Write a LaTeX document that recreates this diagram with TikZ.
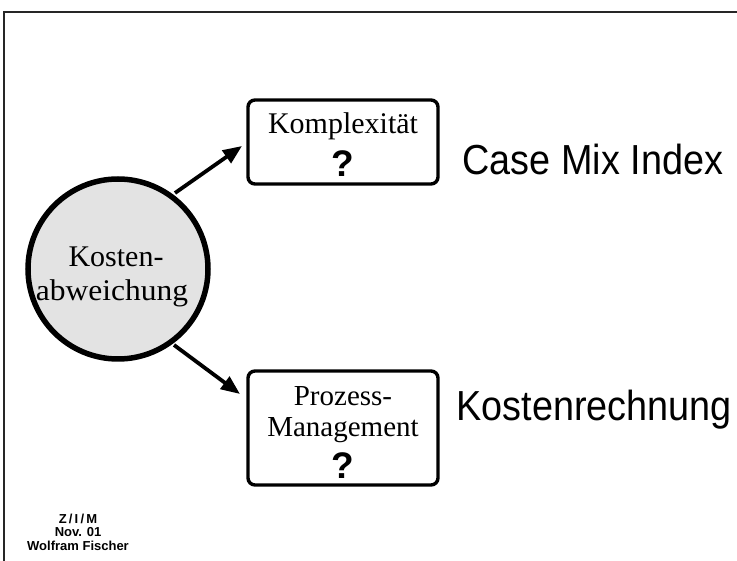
\documentclass[tikz,border=0pt]{standalone}
\usepackage{fontspec}
\setmainfont{Liberation Serif}
\setsansfont{Liberation Sans}
\newfontfamily\notefont[FakeStretch=0.9]{Liberation Sans}
\usetikzlibrary{arrows.meta}
\tikzset{
  frameline/.style={line width=1.6pt, black!85},
  topicbox/.style={draw, line width=3.4pt, rounded corners=7pt, minimum width=190pt, align=center, inner sep=0pt},
  boxtext/.style={font=\fontsize{29}{33}\selectfont, inner sep=1pt},
  qmark/.style={font=\sffamily\bfseries\fontsize{37}{38}\selectfont, inner sep=1pt},
  hubcircle/.style={circle, draw, line width=5.5pt, fill=black!11, minimum size=180pt, align=center, inner sep=0pt},
  bigarrow/.style={line width=3.8pt, -{Triangle[length=19pt,width=15pt]}},
  sidenote/.style={font=\notefont\fontsize{42}{46}\selectfont, anchor=west},
  footer/.style={font=\sffamily\bfseries\fontsize{13}{13.5}\selectfont, align=center}
}
\begin{document}
\begin{tikzpicture}[x=1pt, y=-1pt]
  \useasboundingbox (0,0) rectangle (737,561);
  % page frame (top and left edges)
  \draw[frameline] (737,12) -- (4,12) -- (4,561);

  % central circle
  \node[hubcircle] (hub) at (118,269) {};
  \node[boxtext, font=\fontsize{30}{34}\selectfont] (hubA) at (116,257) {Kosten-};
  \node[boxtext, font=\fontsize{30}{34}\selectfont, xscale=1.05] (hubB) at (112,293) {abweichung};

  % upper box
  \node[topicbox, minimum height=84pt] (upper) at (343,142) {};
  \node[boxtext, font=\fontsize{30}{34}\selectfont] (upA) at (343,126) {Komplexität};
  \node[qmark] (upQ) at (343,164) {?};

  % lower box
  \node[topicbox, minimum height=114pt] (lower) at (343,428) {};
  \node[boxtext] (loA) at (343,396) {Prozess-};
  \node[boxtext] (loB) at (343,430) {Management};
  \node[qmark] (loQ) at (343,466) {?};

  % arrows from the circle to the boxes
  \coordinate (s1) at (175,193);
  \coordinate (e1) at (242,146);
  \coordinate (s2) at (174,345);
  \coordinate (e2) at (240,394);
  \draw[bigarrow] (s1) -- (e1);
  \draw[bigarrow] (s2) -- (e2);

  % side notes
  \node[sidenote] (cmi) at (459,159) {Case Mix Index};
  \node[sidenote] (kr) at (453,410) {Kostenrechnung};

  % footer
  \node[footer] (foot) at (78,532) {Z\,/\,I\,/\,M\\Nov. 01\\Wolfram Fischer};
\end{tikzpicture}
\end{document}
